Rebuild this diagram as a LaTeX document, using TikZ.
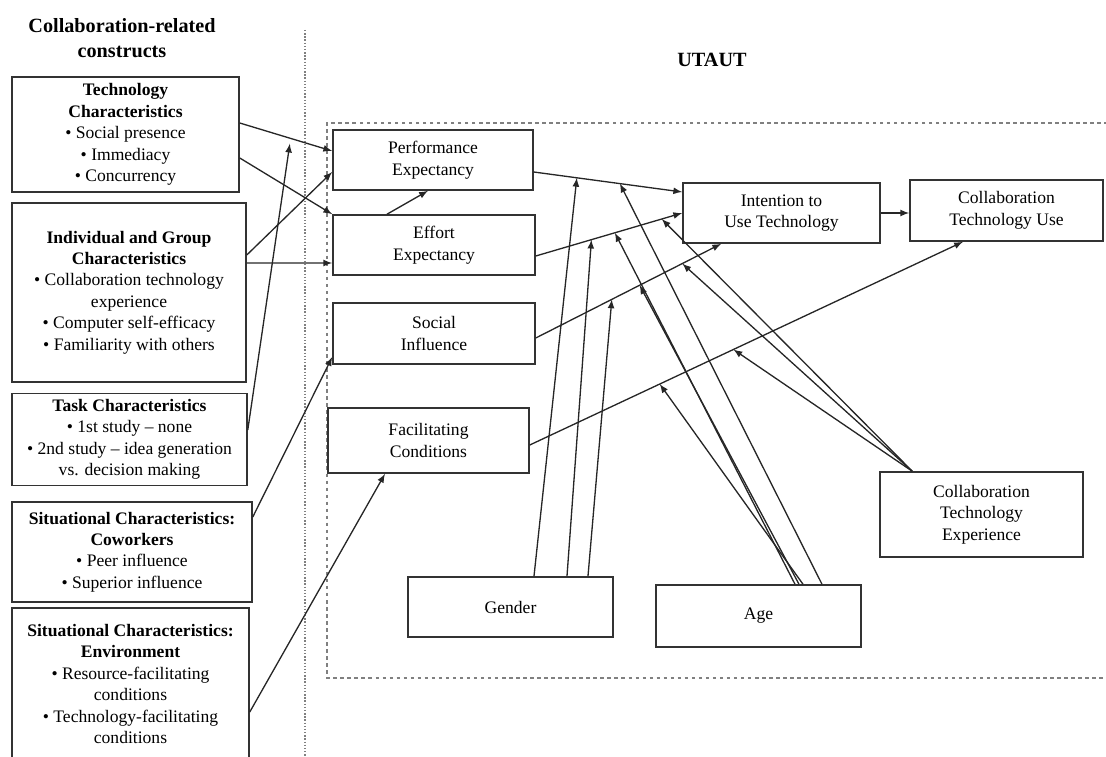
\documentclass[tikz,border=0pt]{standalone}
\usepackage{fontspec}
\setmainfont{Liberation Serif}
\usetikzlibrary{arrows, calc}

\begin{document}
\begin{tikzpicture}[
    x=0.02cm, y=-0.02cm,
    >=latex,
    every node/.style={font=\fontsize{10}{12.2}\selectfont},
    leftbox/.style={rectangle, draw=black!80, line width=0.9pt, align=center, inner xsep=1pt},
    utbox/.style={rectangle, draw=black!80, line width=0.9pt, align=center, minimum width=4cm, minimum height=1.2cm},
    link/.style={->, line width=0.75pt, black!85}
]
\useasboundingbox (0,0) rectangle (1106,757);

% headings and frames
\node[font=\fontsize{11.5}{14}\selectfont\bfseries, align=center] (ttl) at (122,38) {Collaboration-related\\constructs};
\node[font=\fontsize{11.5}{14}\selectfont\bfseries] (utaut) at (712,60) {UTAUT};
\draw[densely dotted, gray, line width=0.8pt] (305,30) -- (305,760);
\draw[gray, line width=0.8pt, dash pattern=on 2pt off 2pt] (1115,123) -- (327,123) -- (327,678) -- (1115,678);

% collaboration-related constructs
\node[leftbox, minimum width=4.54cm, minimum height=2.3cm] (tech) at (125.5,134.5) {\textbf{Technology}\\\textbf{Characteristics}\\• Social presence\\• Immediacy\\• Concurrency};
\node[leftbox, minimum width=4.68cm, minimum height=3.58cm] (indiv) at (129,292.5) {\textbf{Individual and Group}\\\textbf{Characteristics}\\• Collaboration technology\\experience\\• Computer self-efficacy\\• Familiarity with others};
\node[leftbox, minimum width=4.7cm, minimum height=1.78cm] (task) at (129.5,439.5) {\textbf{Task Characteristics}\\• 1st study – none\\• 2nd study – idea generation\\vs. decision making};
\node[leftbox, minimum width=4.8cm, minimum height=2cm] (cowork) at (132,552) {\textbf{Situational Characteristics:}\\\textbf{Coworkers}\\• Peer influence\\• Superior influence};
\node[leftbox, minimum width=4.74cm, minimum height=3.04cm] (envir) at (130.5,684) {\textbf{Situational Characteristics:}\\\textbf{Environment}\\• Resource-facilitating\\conditions\\• Technology-facilitating\\conditions};

% UTAUT constructs
\node[utbox] (perf) at (433,160) {Performance\\Expectancy};
\node[utbox, minimum width=4.04cm] (effort) at (434,245) {Effort\\Expectancy};
\node[utbox, minimum width=4.04cm, minimum height=1.22cm] (social) at (434,333.5) {Social\\Influence};
\node[utbox, minimum width=4.02cm, minimum height=1.3cm] (facil) at (428.5,440.5) {Facilitating\\Conditions};
\node[utbox, minimum width=3.94cm] (intent) at (781.5,213) {Intention to\\Use Technology};
\node[utbox, minimum width=3.86cm, minimum height=1.22cm] (usebox) at (1006.5,210.5) {Collaboration\\Technology Use};
\node[utbox, minimum width=4.06cm, minimum height=1.7cm] (exper) at (981.5,514.5) {Collaboration\\Technology\\Experience};
\node[utbox, minimum width=4.1cm] (gender) at (510.5,607) {Gender};
\node[utbox, minimum width=4.1cm, minimum height=1.24cm] (age) at (758.5,616) {Age};

% links into UTAUT
\draw[link] ([yshift=0.23cm]tech.east) -- coordinate[pos=0.55] (tp) ([yshift=0.18cm]perf.west);
\draw[link] ([yshift=-0.47cm]tech.east) -- (effort.north west);
\draw[link] ([yshift=0.75cm]indiv.east) -- ([yshift=-0.24cm]perf.west);
\draw[link] ([yshift=0.59cm]indiv.east) -- ([yshift=-0.36cm]effort.west);
\draw[link] ([xshift=-0.94cm]effort.north) -- ([xshift=-0.1cm]perf.south);
\draw[link, shorten >=3pt] ([yshift=0.19cm]task.east) -- (tp);
\draw[link] ([yshift=0.7cm]cowork.east) -- ([yshift=-0.47cm]social.west);
\draw[link] ([yshift=-0.56cm]envir.east) -- ([xshift=-0.87cm]facil.south);

% UTAUT paths
\draw[link] ([yshift=-0.24cm]perf.east) -- coordinate[pos=0.29] (pg) coordinate[pos=0.58] (pa) ([yshift=0.42cm]intent.west);
\draw[link] ([yshift=-0.22cm]effort.east) -- coordinate[pos=0.38] (eg) coordinate[pos=0.54] (ea) coordinate[pos=0.86] (ex) (intent.west);
\draw[link] ([yshift=-0.09cm]social.east) -- coordinate[pos=0.41] (sg) coordinate[pos=0.56] (sa) coordinate[pos=0.79] (sx) ([xshift=0.78cm]intent.south west);
\draw[link] ([yshift=-0.09cm]facil.east) -- coordinate[pos=0.30] (fa) coordinate[pos=0.47] (fx) ([xshift=-0.87cm]usebox.south);
\draw[link] (intent.east) -- (intent.east -| usebox.west);

% moderators
\draw[link] ([xshift=0.47cm]gender.north) -- (pg);
\draw[link] ([xshift=1.13cm]gender.north) -- (eg);
\draw[link] ([xshift=1.55cm]gender.north) -- (sg);
\draw[link] ([xshift=1.27cm]age.north) -- (pa);
\draw[link] ([xshift=0.73cm]age.north) -- (ea);
\draw[link] ([xshift=0.81cm]age.north) -- (sa);
\draw[link] ([xshift=0.89cm]age.north) -- (fa);
\coordinate (xtop) at ([xshift=0.66cm]exper.north west);
\draw[link] (xtop) -- (ex);
\draw[link] (xtop) -- (sx);
\draw[link] (xtop) -- (fx);
\end{tikzpicture}
\end{document}
